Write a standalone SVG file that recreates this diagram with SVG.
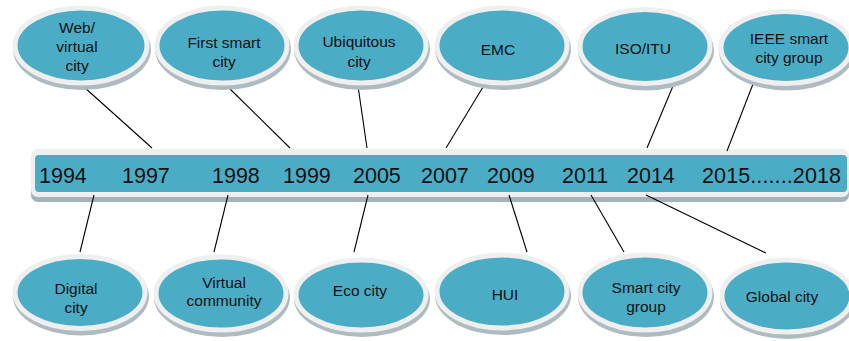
<svg xmlns="http://www.w3.org/2000/svg" width="849" height="341" viewBox="0 0 849 341">
<style>
.sh{fill:#AEBCC2}
.el{fill:#4BACC6;stroke:#EFEFEF;stroke-width:5}
.t{font-family:"Liberation Sans",Arial,sans-serif;font-size:15.5px;fill:#111;text-anchor:middle}
.y{font-family:"Liberation Sans",Arial,sans-serif;font-size:21.5px;fill:#111}
.c{stroke:#000;stroke-width:1.1;fill:none}
</style>
<rect width="849" height="341" fill="#fff"/>
<g id="timeline">
<rect x="31" y="153" width="818" height="49" rx="7" fill="#A3B3BA"/>
<rect x="31" y="149" width="818" height="48" rx="7" fill="#EFEFEF"/>
<rect x="35" y="155" width="812" height="37" rx="4" fill="#4BACC6"/>
<text class="y" x="39" y="183">1994</text>
<text class="y" x="122" y="183">1997</text>
<text class="y" x="212" y="183">1998</text>
<text class="y" x="283" y="183">1999</text>
<text class="y" x="353" y="183">2005</text>
<text class="y" x="421" y="183">2007</text>
<text class="y" x="487" y="183">2009</text>
<text class="y" x="562" y="183">2011</text>
<text class="y" x="627" y="183">2014</text>
<text class="y" x="702" y="183" textLength="139" lengthAdjust="spacing">2015.......2018</text>
</g>
<g id="connectors">
<line class="c" x1="84" y1="87" x2="152" y2="148"/>
<line class="c" x1="228" y1="87" x2="290" y2="148"/>
<line class="c" x1="358" y1="86" x2="367" y2="148"/>
<line class="c" x1="483" y1="87" x2="446" y2="148"/>
<line class="c" x1="673" y1="86" x2="647" y2="148"/>
<line class="c" x1="753" y1="84" x2="727" y2="151"/>
<line class="c" x1="94" y1="195" x2="80" y2="252"/>
<line class="c" x1="228" y1="195" x2="214" y2="252"/>
<line class="c" x1="368" y1="195" x2="354" y2="252"/>
<line class="c" x1="509" y1="195" x2="527" y2="252"/>
<line class="c" x1="591" y1="195" x2="624" y2="252"/>
<line class="c" x1="646" y1="195" x2="766" y2="253"/>
</g>
<g id="n-web">
<ellipse class="sh" cx="82" cy="49.5" rx="69" ry="40.5"/>
<ellipse class="el" cx="81" cy="45.5" rx="66" ry="37.5"/>
<text class="t" x="77" y="33">Web/</text>
<text class="t" x="77" y="52">virtual</text>
<text class="t" x="77" y="71">city</text>
</g>
<g id="n-first">
<ellipse class="sh" cx="223" cy="49.5" rx="68" ry="40.5"/>
<ellipse class="el" cx="222" cy="45.5" rx="65" ry="37.5"/>
<text class="t" x="224" y="48">First smart</text>
<text class="t" x="224" y="67">city</text>
</g>
<g id="n-ubi">
<ellipse class="sh" cx="362" cy="49.5" rx="68" ry="40.5"/>
<ellipse class="el" cx="361" cy="45.5" rx="65" ry="37.5"/>
<text class="t" x="359" y="47">Ubiquitous</text>
<text class="t" x="359" y="67">city</text>
</g>
<g id="n-emc">
<ellipse class="sh" cx="503" cy="49.5" rx="68" ry="40.5"/>
<ellipse class="el" cx="502" cy="45.5" rx="65" ry="37.5"/>
<text class="t" x="498" y="55">EMC</text>
</g>
<g id="n-iso">
<ellipse class="sh" cx="646" cy="50.5" rx="68" ry="40"/>
<ellipse class="el" cx="645" cy="46.5" rx="65" ry="37"/>
<text class="t" x="643" y="54">ISO/ITU</text>
</g>
<g id="n-ieee">
<ellipse class="sh" cx="787" cy="51.5" rx="68" ry="39"/>
<ellipse class="el" cx="786" cy="47.5" rx="65" ry="36"/>
<text class="t" x="789" y="44">IEEE smart</text>
<text class="t" x="789" y="63">city group</text>
</g>
<g id="n-digital">
<ellipse class="sh" cx="81" cy="296.5" rx="68" ry="39"/>
<ellipse class="el" cx="80" cy="292.5" rx="65" ry="36"/>
<text class="t" x="76" y="294">Digital</text>
<text class="t" x="76" y="313">city</text>
</g>
<g id="n-virtual">
<ellipse class="sh" cx="222" cy="297.5" rx="68" ry="39.5"/>
<ellipse class="el" cx="221" cy="293.5" rx="65" ry="36.5"/>
<text class="t" x="224" y="288">Virtual</text>
<text class="t" x="224" y="306">community</text>
</g>
<g id="n-eco">
<ellipse class="sh" cx="362" cy="299" rx="68" ry="38"/>
<ellipse class="el" cx="361" cy="295" rx="65" ry="35"/>
<text class="t" x="360" y="296">Eco city</text>
</g>
<g id="n-hui">
<ellipse class="sh" cx="503" cy="295.5" rx="68" ry="39.5"/>
<ellipse class="el" cx="502" cy="291.5" rx="65" ry="36.5"/>
<text class="t" x="505" y="300">HUI</text>
</g>
<g id="n-smart">
<ellipse class="sh" cx="646" cy="296.5" rx="68" ry="40.5"/>
<ellipse class="el" cx="645" cy="292.5" rx="65" ry="37.5"/>
<text class="t" x="646" y="293">Smart city</text>
<text class="t" x="646" y="312">group</text>
</g>
<g id="n-global">
<ellipse class="sh" cx="788" cy="300" rx="68" ry="39"/>
<ellipse class="el" cx="787" cy="296" rx="65" ry="36"/>
<text class="t" x="782" y="302">Global city</text>
</g>
</svg>
